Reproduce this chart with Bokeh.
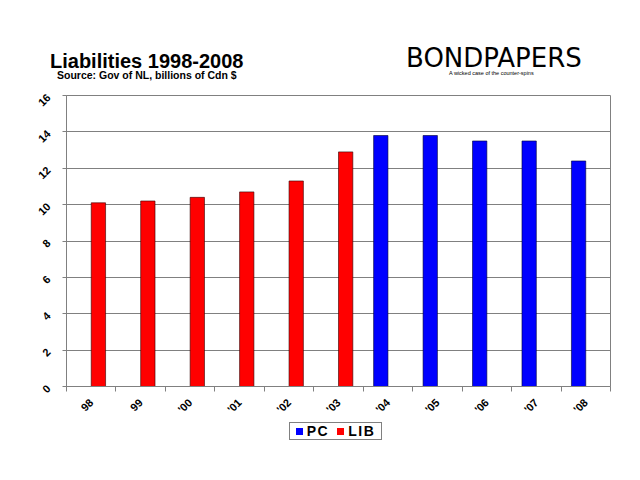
from math import pi
from bokeh.plotting import figure
from bokeh.layouts import column
from bokeh.models import Range1d, FixedTicker, ColumnDataSource, Div
from bokeh.embed import file_html
from bokeh.resources import INLINE

# ---- data ----
years = ["98", "99", "'00", "'01", "'02", "'03", "'04", "'05", "'06", "'07", "'08"]
lib_years = ["98", "99", "'00", "'01", "'02", "'03"]
lib_values = [10.1, 10.2, 10.4, 10.7, 11.3, 12.9]
pc_years = ["'04", "'05", "'06", "'07", "'08"]
pc_values = [13.8, 13.8, 13.5, 13.5, 12.4]
y_ticks = [0, 2, 4, 6, 8, 10, 12, 14, 16]
series_names = ["PC", "LIB"]
series_colors = ["#0000FF", "#FF0000"]

title_text = "Liabilities 1998-2008"
subtitle_text = "Source:  Gov of NL, billions of Cdn $"
brand_text = "BONDPAPERS"
tagline_text = "A wicked case of the counter-spins"

FONT = "Liberation Sans"
GRID = "#808080"
BAR_W = 0.29
pos = {y: i + 0.5 for i, y in enumerate(years)}
lib_src = ColumnDataSource(dict(x=[pos[y] + BAR_W / 2 for y in lib_years], top=lib_values))
pc_src = ColumnDataSource(dict(x=[pos[y] - BAR_W / 2 for y in pc_years], top=pc_values))

# ---------- header (titles, real text) ----------
HEAD_H = 85
header_html = f"""
<div style="position:relative;width:640px;height:{HEAD_H}px;color:black;">
  <span style="position:absolute;left:50px;top:51.4px;line-height:1;white-space:nowrap;
        font-family:'{FONT}',Arial,sans-serif;font-weight:bold;font-size:20px;">{title_text}</span>
  <span style="position:absolute;left:57px;top:70.4px;line-height:1;white-space:nowrap;
        font-family:'{FONT}',Arial,sans-serif;font-weight:bold;font-size:10.5px;">{subtitle_text}</span>
  <span style="position:absolute;left:406px;top:45px;line-height:1;white-space:nowrap;
        font-family:'DejaVu Sans',sans-serif;font-size:26px;">{brand_text}</span>
  <span style="position:absolute;left:449px;top:70.8px;line-height:1;white-space:nowrap;
        font-family:'{FONT}',Arial,sans-serif;font-size:5.5px;">{tagline_text}</span>
</div>
"""
header = Div(text=header_html, width=640, height=HEAD_H, margin=0)

# ---------- main chart ----------
p = figure(frame_width=544, frame_height=291, output_backend="svg",
           toolbar_location=None, x_range=Range1d(0, len(years)),
           y_range=Range1d(0, 16))
p.min_border_left = 66
p.min_border_right = 30
p.min_border_top = 95 - HEAD_H
p.min_border_bottom = 34
p.title.visible = False
p.outline_line_color = GRID
p.background_fill_color = "white"
p.border_fill_color = "white"

pc = p.vbar(x="x", top="top", width=BAR_W, bottom=0, source=pc_src,
            fill_color=series_colors[0], line_color="#000033", line_width=0.6)
lib = p.vbar(x="x", top="top", width=BAR_W, bottom=0, source=lib_src,
             fill_color=series_colors[1], line_color="#330000", line_width=0.6)

xa = p.xaxis[0]
xa.ticker = FixedTicker(ticks=[pos[y] for y in years], minor_ticks=list(range(len(years) + 1)))
xa.major_label_overrides = {pos[y]: y for y in years}
xa.major_tick_in = 0
xa.major_tick_out = 0
xa.minor_tick_in = 0
xa.minor_tick_out = 5
xa.minor_tick_line_color = GRID
xa.axis_line_color = GRID
xa.major_label_orientation = pi / 4
xa.major_label_text_font = FONT
xa.major_label_text_font_style = "bold"
xa.major_label_text_font_size = "11px"
xa.major_label_text_color = "black"
xa.major_label_standoff = 9

ya = p.yaxis[0]
ya.ticker = FixedTicker(ticks=y_ticks, minor_ticks=[])
ya.major_tick_in = 0
ya.major_tick_out = 4
ya.major_tick_line_color = GRID
ya.axis_line_color = GRID
ya.major_label_orientation = pi / 4
ya.major_label_text_font = FONT
ya.major_label_text_font_style = "bold"
ya.major_label_text_font_size = "11px"
ya.major_label_text_color = "black"
ya.major_label_standoff = 14

p.xgrid.visible = False
p.ygrid.ticker = FixedTicker(ticks=y_ticks)
p.ygrid.grid_line_color = GRID

# ---------- legend (real text, below the chart) ----------
items_html = ""
for i, (name, col) in enumerate(zip(series_names, series_colors)):
    gap = "margin-left:8px;" if i > 0 else ""
    items_html += (f'<span style="display:inline-block;width:7px;height:7px;'
                   f'background:{col};{gap}margin-right:4px;"></span>'
                   f'<span style="letter-spacing:1.5px;">{name}</span>')
legend_html = f"""
<div style="position:relative;width:640px;height:40px;">
  <div style="position:absolute;left:289px;top:0px;width:93px;height:18px;
       border:1px solid {GRID};background:white;display:flex;align-items:center;
       justify-content:center;font-family:'{FONT}',Arial,sans-serif;
       font-weight:bold;font-size:14px;color:black;line-height:1;">
    {items_html}
  </div>
</div>
"""
footer = Div(text=legend_html, width=640, height=40, margin=0)

layout = column(header, p, footer, spacing=0)
open("out.html", "w").write(file_html(layout, INLINE))
